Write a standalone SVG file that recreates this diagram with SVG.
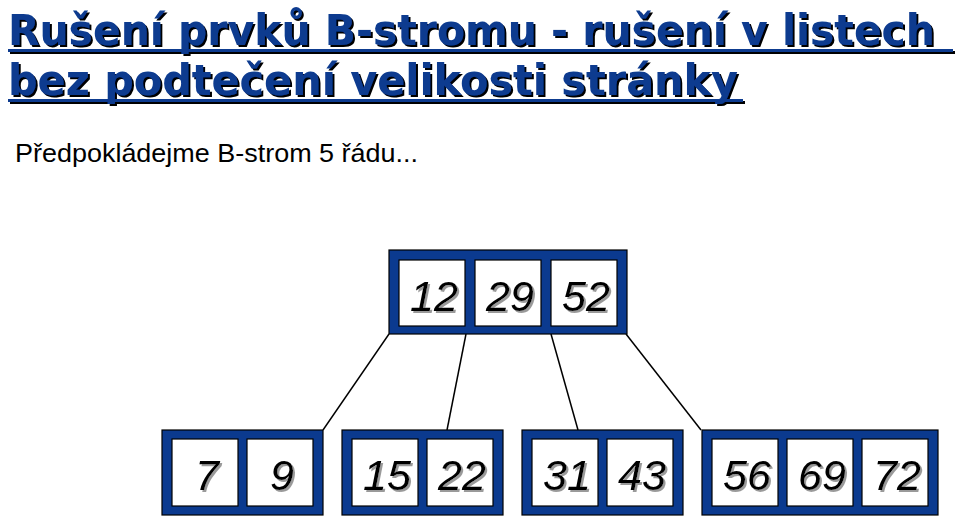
<svg xmlns="http://www.w3.org/2000/svg" width="960" height="518" viewBox="0 0 960 518">
<defs>
<filter id="tsh" x="-5%" y="-20%" width="110%" height="150%">
<feDropShadow dx="2" dy="2" stdDeviation="0.3" flood-color="#000" flood-opacity="1"/>
</filter>
<filter id="nsh" x="-20%" y="-20%" width="150%" height="150%">
<feDropShadow dx="2" dy="2" stdDeviation="0.6" flood-color="#9a9a9a" flood-opacity="1"/>
</filter>
</defs>
<style>
.title{font-family:"Comic Sans MS","DejaVu Sans",sans-serif;font-size:42px;font-weight:bold;fill:#0b3a8f}
.sub{font-family:"Liberation Sans",Arial,sans-serif;font-size:25px;fill:#000}
.outer{fill:#0b3a8f;stroke:#000;stroke-width:1.2}
.cell{fill:#fff;stroke:#000;stroke-width:1.2}
.num{font-family:"Liberation Sans",Arial,sans-serif;font-style:italic;font-size:43px;text-anchor:middle;fill:#000}
.conn line{stroke:#000;stroke-width:1.5}
</style>
<rect width="960" height="518" fill="#fff"/>
<g id="title" filter="url(#tsh)">
<rect x="8" y="49" width="945" height="3" fill="#0b3a8f"/>
<rect x="8" y="99" width="735" height="3" fill="#0b3a8f"/>
<text x="8" y="45" class="title" textLength="927" lengthAdjust="spacingAndGlyphs">Rušení prvků B-stromu - rušení v listech</text>
<text x="8" y="95" class="title" textLength="730" lengthAdjust="spacingAndGlyphs">bez podtečení velikosti stránky</text>
</g>
<text x="15" y="162" class="sub" textLength="403" lengthAdjust="spacingAndGlyphs">Předpokládejme B-strom 5 řádu...</text>
<g id="connectors" class="conn">
<line x1="389" y1="334" x2="323" y2="430"/>
<line x1="466" y1="334" x2="447" y2="430"/>
<line x1="551" y1="334" x2="578" y2="430"/>
<line x1="626" y1="334" x2="701" y2="430"/>
</g>
<g id="root">
<rect x="389" y="250" width="238" height="84" class="outer"/>
<rect x="399" y="260" width="66" height="66" class="cell"/>
<rect x="475" y="260" width="66" height="66" class="cell"/>
<rect x="551" y="260" width="66" height="66" class="cell"/>
<g filter="url(#nsh)">
<text x="434" y="311" class="num">12</text>
<text x="510" y="311" class="num">29</text>
<text x="586" y="311" class="num">52</text>
</g>
</g>
<g id="leaf1">
<rect x="162" y="430" width="161" height="85" class="outer"/>
<rect x="172" y="439" width="66" height="67" class="cell"/>
<rect x="247" y="439" width="66" height="67" class="cell"/>
<g filter="url(#nsh)">
<text x="207" y="490" class="num">7</text>
<text x="282" y="490" class="num">9</text>
</g>
</g>
<g id="leaf2">
<rect x="342" y="430" width="161" height="85" class="outer"/>
<rect x="352" y="439" width="66" height="67" class="cell"/>
<rect x="427" y="439" width="66" height="67" class="cell"/>
<g filter="url(#nsh)">
<text x="387" y="490" class="num">15</text>
<text x="462" y="490" class="num">22</text>
</g>
</g>
<g id="leaf3">
<rect x="522" y="430" width="161" height="85" class="outer"/>
<rect x="532" y="439" width="66" height="67" class="cell"/>
<rect x="607" y="439" width="66" height="67" class="cell"/>
<g filter="url(#nsh)">
<text x="567" y="490" class="num">31</text>
<text x="642" y="490" class="num">43</text>
</g>
</g>
<g id="leaf4">
<rect x="702" y="430" width="236" height="85" class="outer"/>
<rect x="712" y="439" width="66" height="67" class="cell"/>
<rect x="787" y="439" width="66" height="67" class="cell"/>
<rect x="862" y="439" width="66" height="67" class="cell"/>
<g filter="url(#nsh)">
<text x="747" y="490" class="num">56</text>
<text x="822" y="490" class="num">69</text>
<text x="897" y="490" class="num">72</text>
</g>
</g>
</svg>
